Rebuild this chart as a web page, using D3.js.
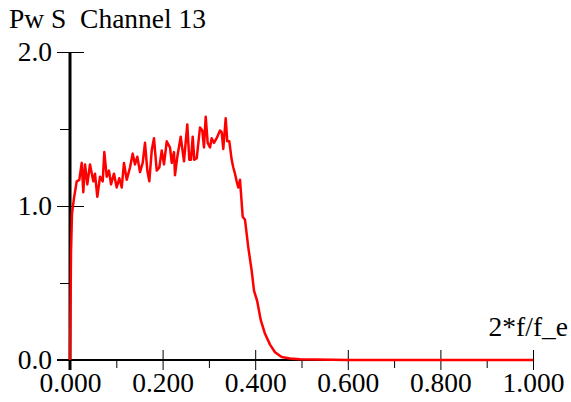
<!DOCTYPE html>
<html>
<head>
<meta charset="utf-8">
<script src="https://cdn.jsdelivr.net/npm/d3@7"></script>
<style>
  body { margin: 0; background: #fff; }
  svg text { font-family: 'Liberation Serif'; }
</style>
</head>
<body>
<div id="chart"></div>
<script>
// spectrum: normalised frequency vs power
const freq = [0, 0.0022, 0.0043, 0.0086, 0.0145, 0.0201, 0.0253, 0.0287, 0.0324, 0.0374,
  0.0432, 0.0503, 0.0540, 0.0590, 0.0648, 0.0706, 0.0741, 0.0793, 0.0842, 0.0886,
  0.0950, 0.1009, 0.1065, 0.1117, 0.1166, 0.1225, 0.1296, 0.1354, 0.1404, 0.1454,
  0.1512, 0.1570, 0.1620, 0.1670, 0.1713, 0.1765, 0.1814, 0.1873, 0.1929, 0.1981,
  0.2030, 0.2089, 0.2160, 0.2197, 0.2246, 0.2268, 0.2318, 0.2391, 0.2462, 0.2533,
  0.2577, 0.2613, 0.2650, 0.2685, 0.2737, 0.2808, 0.2857, 0.2894, 0.2931, 0.2974,
  0.3024, 0.3060, 0.3110, 0.3168, 0.3240, 0.3276, 0.3311, 0.3363, 0.3397, 0.3441,
  0.3492, 0.3527, 0.3564, 0.3600, 0.3635, 0.3672, 0.3730, 0.3780, 0.3851, 0.3924,
  0.3974, 0.4045, 0.4119, 0.4212, 0.4320, 0.4428, 0.4572, 0.4752, 0.4968, 0.6, 0.8, 1.0];
const power = [0, 0.70, 0.95, 1.05, 1.16, 1.17, 1.28, 1.09, 1.27, 1.14,
  1.27, 1.16, 1.21, 1.06, 1.19, 1.16, 1.35, 1.19, 1.23, 1.14,
  1.21, 1.12, 1.18, 1.12, 1.28, 1.17, 1.25, 1.34, 1.27, 1.32,
  1.22, 1.28, 1.41, 1.23, 1.16, 1.36, 1.44, 1.23, 1.25, 1.36,
  1.27, 1.42, 1.38, 1.28, 1.35, 1.20, 1.32, 1.45, 1.29, 1.53,
  1.30, 1.30, 1.45, 1.30, 1.31, 1.51, 1.49, 1.38, 1.58, 1.41,
  1.38, 1.44, 1.41, 1.44, 1.49, 1.48, 1.37, 1.57, 1.42, 1.42,
  1.30, 1.25, 1.21, 1.16, 1.12, 1.17, 0.93, 0.91, 0.73, 0.58,
  0.45, 0.38, 0.26, 0.17, 0.10, 0.05, 0.02, 0.01, 0.005, 0, 0, 0];

const xMajor = [0, 0.2, 0.4, 0.6, 0.8, 1.0];
const xMinor = [0.1, 0.3, 0.5, 0.7, 0.9];
const yMajor = [0, 1, 2];
const yMinor = [0.5, 1.5];

const width = 571, height = 402;
const fontSize = 27.5;
const x = d3.scaleLinear().domain([0, 1]).range([70, 533]);
const y = d3.scaleLinear().domain([0, 2]).range([360, 52]);

const svg = d3.select('#chart').append('svg')
  .attr('width', width)
  .attr('height', height);

// x axis
const xAxis = svg.append('g')
  .attr('transform', 'translate(0,360)')
  .call(d3.axisBottom(x).tickValues(xMajor).tickSize(10).tickFormat(d3.format('.3f')));
xAxis.attr('font-family', null);
xAxis.select('.domain').remove();
xAxis.selectAll('.tick line').attr('y1', -10).attr('y2', 10).attr('stroke', '#000');
xAxis.selectAll('.tick text').attr('y', 32).attr('dy', null)
  .attr('font-size', fontSize).attr('fill', '#000');

const xAxisMinor = svg.append('g')
  .attr('transform', 'translate(0,360)')
  .call(d3.axisBottom(x).tickValues(xMinor).tickSize(8).tickFormat(''));
xAxisMinor.select('.domain').remove();
xAxisMinor.selectAll('.tick line').attr('stroke', '#000');

svg.append('line')
  .attr('x1', 57).attr('x2', x(1))
  .attr('y1', y(0)).attr('y2', y(0))
  .attr('stroke', '#000').attr('stroke-width', 2);

// y axis
const yAxis = svg.append('g')
  .attr('transform', 'translate(70,0)')
  .call(d3.axisLeft(y).tickValues(yMajor).tickSize(13).tickFormat(d3.format('.1f')));
yAxis.attr('font-family', null);
yAxis.select('.domain').remove();
yAxis.selectAll('.tick line').attr('x1', 14).attr('stroke', '#000');
yAxis.selectAll('.tick text').attr('x', -18).attr('dy', '0.3em')
  .attr('font-size', fontSize).attr('fill', '#000');

const yAxisMinor = svg.append('g')
  .attr('transform', 'translate(70,0)')
  .call(d3.axisLeft(y).tickValues(yMinor).tickSize(10).tickFormat(''));
yAxisMinor.select('.domain').remove();
yAxisMinor.selectAll('.tick line').attr('stroke', '#000');

svg.append('line')
  .attr('x1', 70).attr('x2', 70)
  .attr('y1', y(2)).attr('y2', 370)
  .attr('stroke', '#000').attr('stroke-width', 3);

// spectrum line
const line = d3.line()
  .x((d, i) => x(freq[i]))
  .y(d => y(d));

svg.append('path')
  .datum(power)
  .attr('d', line)
  .attr('fill', 'none')
  .attr('stroke', '#ff0000')
  .attr('stroke-width', 2.5)
  .attr('stroke-linejoin', 'round');

// labels
svg.append('text')
  .attr('x', 9).attr('y', 28)
  .attr('font-size', fontSize)
  .attr('xml:space', 'preserve')
  .text('Pw S  Channel 13');

svg.append('text')
  .attr('x', 568).attr('y', 336)
  .attr('text-anchor', 'end')
  .attr('font-size', fontSize)
  .text('2*f/f_e');
</script>
</body>
</html>
